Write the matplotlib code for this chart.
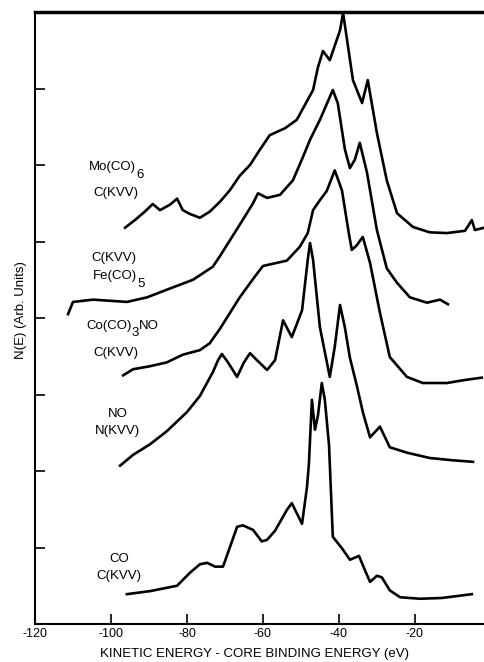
import numpy as np
import matplotlib
matplotlib.use('Agg')
import matplotlib.pyplot as plt

plt.rcParams['font.family'] = ['Liberation Sans', 'DejaVu Sans']
plt.rcParams['axes.unicode_minus'] = False

# Mo(CO)6 C(KVV)
mo_x = [-96.3, -93.7, -91.1, -89.0, -87.1, -84.5, -82.6, -81.1, -79.2, -76.6, -74.0, -71.3,
        -68.7, -66.1, -63.4, -60.8, -58.2, -54.2, -51.1, -46.8, -45.5, -44.2, -42.4, -39.7,
        -38.9, -36.3, -33.9, -32.4, -30.0, -27.4, -24.7, -20.5, -16.1, -11.6, -6.8, -5.0,
        -4.2, -1.8]
mo_y = [5.18, 5.28, 5.39, 5.49, 5.41, 5.48, 5.56, 5.41, 5.36, 5.31, 5.39, 5.52,
        5.67, 5.86, 6.00, 6.20, 6.39, 6.48, 6.59, 6.98, 7.28, 7.49, 7.37, 7.76,
        7.99, 7.11, 6.81, 7.11, 6.42, 5.80, 5.37, 5.19, 5.12, 5.11, 5.14, 5.28,
        5.15, 5.18]

# Fe(CO)5 C(KVV)
fe_x = [-111.3, -110.0, -104.7, -95.8, -90.5, -85.3, -78.4, -73.2, -71.3, -66.1, -62.6, -61.3,
        -58.9, -55.5, -52.1, -49.5, -47.6, -45.0, -41.6, -40.3, -38.4, -37.1, -35.8, -34.5,
        -32.6, -30.0, -27.4, -24.7, -21.3, -16.8, -13.4, -11.3]
fe_y = [4.05, 4.21, 4.24, 4.21, 4.27, 4.37, 4.50, 4.67, 4.81, 5.22, 5.50, 5.63,
        5.57, 5.61, 5.80, 6.10, 6.33, 6.59, 6.98, 6.81, 6.20, 5.96, 6.07, 6.29,
        5.90, 5.15, 4.65, 4.46, 4.27, 4.20, 4.24, 4.18]

# Co(CO)3NO C(KVV)
co3_x = [-96.8, -94.2, -89.7, -85.3, -81.1, -76.6, -74.0, -71.3, -66.1, -62.6, -60.0, -53.7,
         -50.3, -48.2, -46.8, -45.0, -43.2, -41.1, -39.2, -37.4, -36.6, -35.3, -33.7, -31.8,
         -29.2, -26.6, -22.1, -17.9, -11.6, -6.8, -2.4]
co3_y = [3.25, 3.33, 3.37, 3.42, 3.52, 3.58, 3.67, 3.86, 4.27, 4.51, 4.68, 4.75,
         4.93, 5.11, 5.41, 5.54, 5.66, 5.93, 5.67, 5.11, 4.89, 4.95, 5.06, 4.72,
         4.07, 3.49, 3.23, 3.15, 3.15, 3.19, 3.22]

# NO N(KVV)
no_x = [-97.6, -94.2, -89.7, -85.3, -80.0, -76.6, -73.2, -71.8, -70.8, -69.2, -66.8, -65.0,
        -63.4, -61.6, -58.9, -56.8, -54.7, -52.4, -49.7, -48.2, -47.6, -46.8, -45.0, -42.4,
        -41.1, -39.7, -38.4, -37.1, -35.3, -33.7, -31.8, -30.5, -29.2, -26.6, -22.1, -16.1,
        -10.0, -4.7]
no_y = [2.07, 2.21, 2.35, 2.52, 2.77, 2.98, 3.29, 3.45, 3.53, 3.42, 3.23, 3.42,
        3.54, 3.45, 3.32, 3.45, 3.97, 3.75, 4.10, 4.76, 4.98, 4.76, 3.88, 3.23,
        3.62, 4.17, 3.87, 3.48, 3.12, 2.77, 2.44, 2.51, 2.58, 2.31, 2.24, 2.17,
        2.14, 2.12]

# CO C(KVV)
co_x = [-95.8, -89.7, -82.6, -79.2, -76.6, -74.7, -72.6, -70.5, -66.8, -65.3, -62.6, -60.3,
        -58.9, -56.8, -53.7, -52.4, -50.8, -49.7, -48.4, -47.9, -47.1, -46.3, -45.5, -44.5,
        -43.7, -42.6, -41.6, -39.2, -37.1, -34.7, -33.2, -31.8, -30.0, -28.7, -26.6, -23.9,
        -18.7, -12.9, -5.0]
co_y = [0.39, 0.43, 0.50, 0.67, 0.78, 0.80, 0.75, 0.75, 1.27, 1.29, 1.23, 1.08,
        1.10, 1.22, 1.49, 1.58, 1.42, 1.31, 1.79, 2.09, 2.93, 2.54, 2.73, 3.15,
        2.93, 2.34, 1.14, 0.99, 0.84, 0.89, 0.71, 0.55, 0.63, 0.61, 0.44, 0.35,
        0.33, 0.34, 0.39]

# plain curve labels: (text, centre x, baseline y)
labels = [
    ('C(KVV)', -98.7, 5.59),
    ('C(KVV)', -99.2, 4.75),
    ('C(KVV)', -98.7, 3.50),
    ('NO', -98.2, 2.71), ('N(KVV)', -98.2, 2.48),
    ('CO', -97.9, 0.81), ('C(KVV)', -97.9, 0.59),
]
# formula labels with a subscript: (head, subscript, tail, left x, baseline y)
formulas = [
    ('Mo(CO)', '6', '', -105.8, 5.93),
    ('Fe(CO)', '5', '', -104.7, 4.51),
    ('Co(CO)', '3', 'NO', -106.6, 3.86),
]

xticks = [-120, -100, -80, -60, -40, -20]
xticklabels = ['-120', '-100', '-80', '-60', '-40', '-20']

fig = plt.figure(figsize=(4.84, 6.62), dpi=100)
ax = fig.add_axes([35 / 484, 38 / 662, 449 / 484, 612 / 662])

for xs, ys in [(mo_x, mo_y), (fe_x, fe_y), (co3_x, co3_y), (no_x, no_y), (co_x, co_y)]:
    ax.plot(xs, ys, color='black', lw=1.9, solid_joinstyle='round')

fs = 9.5
for txt, x, y in labels:
    ax.text(x, y, txt, ha='center', va='baseline', fontsize=fs)

# subscripts in the original are nearly full size and dropped well below the line
for head, sub, tail, x, y in formulas:
    t = ax.text(x, y, head, ha='left', va='baseline', fontsize=fs)
    s = ax.annotate(sub, xy=(1, 0), xycoords=t, xytext=(0.3, -5.5),
                    textcoords='offset points', ha='left', va='bottom', fontsize=fs)
    if tail:
        ax.annotate(tail, xy=(1, 0), xycoords=s, xytext=(0, 5.5),
                    textcoords='offset points', ha='left', va='bottom', fontsize=fs)

ax.set_xlim(-120, -1.8)
ax.set_ylim(0, 8)
ax.set_xticks(xticks)
ax.set_xticklabels(xticklabels, fontsize=9)
ax.set_yticks(range(1, 8))
ax.set_yticklabels([])
ax.tick_params(axis='both', direction='in', length=7, width=1.2, pad=3)

ax.spines['right'].set_visible(False)
ax.spines['left'].set_linewidth(1.5)
ax.spines['bottom'].set_linewidth(1.5)
ax.spines['top'].set_linewidth(2.5)

fig.text(254 / 484, 1 - 654 / 662, 'KINETIC ENERGY - CORE BINDING ENERGY (eV)',
         ha='center', va='center', fontsize=9.5)
fig.text(21 / 484, 1 - 310 / 662, 'N(E) (Arb. Units)', rotation=90,
         ha='center', va='center', fontsize=9.5)

fig.savefig('out.png', dpi=100)
